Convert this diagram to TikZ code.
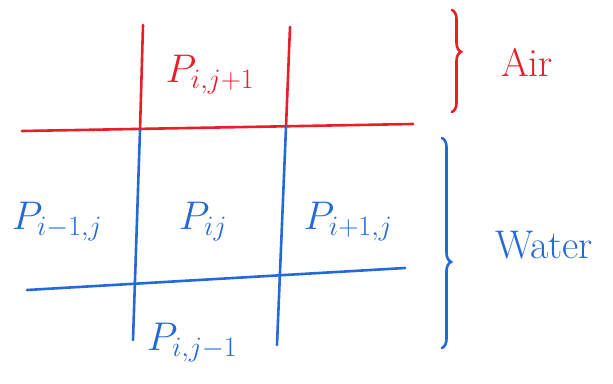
\RequirePackage{fix-cm}
\documentclass[tikz,border=0pt]{standalone}
\usetikzlibrary{decorations.pathreplacing}
\definecolor{penred}{RGB}{232,30,40}
\definecolor{penblue}{RGB}{35,105,215}
\begin{document}
\begin{tikzpicture}[x=1pt,y=-1pt,
  pen/.style={line width=2.6pt,line cap=round},
  lbl/.style={inner sep=0pt,font=\fontsize{40}{48}\selectfont},
  bracestyle/.style={pen,decorate,decoration={brace,amplitude=9pt,aspect=#1}}]
\useasboundingbox (0,0) rectangle (613,383);
% air part (red)
\coordinate (rl) at (22,131);
\coordinate (rr) at (413,124);
\coordinate (v1t) at (143,25);
\coordinate (v1m) at (140,130);
\coordinate (v1b) at (133,340);
\coordinate (v2t) at (290,27);
\coordinate (v2m) at (286,127);
\coordinate (v2b) at (277,345);
\coordinate (bl) at (27,290);
\coordinate (br) at (405,268);
\draw[pen,penred] (rl) -- (rr);
\draw[pen,penred] (v1t) -- (v1m);
\draw[pen,penred] (v2t) -- (v2m);
% water part (blue)
\draw[pen,penblue] (v1m) -- (v1b);
\draw[pen,penblue] (v2m) -- (v2b);
\draw[pen,penblue] (bl) -- (br);
% labels
\node[lbl,text=penred] (pup) at (210,75) {$P_{i,j+1}$};
\node[lbl,text=penblue] (pleft) at (57,222) {$P_{i-1,j}$};
\node[lbl,text=penblue] (pc) at (203,222) {$P_{ij}$};
\node[lbl,text=penblue] (pright) at (348,222) {$P_{i+1,j}$};
\node[lbl,text=penblue] (pdown) at (192,343) {$P_{i,j-1}$};
% braces
\coordinate (rbt) at (452,10);
\coordinate (rbb) at (452,112);
\coordinate (bbt) at (442,138);
\coordinate (bbb) at (442,348);
\draw[bracestyle=0.41,penred] (rbt) -- (rbb);
\draw[bracestyle=0.59,penblue] (bbt) -- (bbb);
\node[lbl,text=penred] (air) at (527,62) {Air};
\node[lbl,text=penblue] (water) at (544,245) {Water};
\end{tikzpicture}
\end{document}
